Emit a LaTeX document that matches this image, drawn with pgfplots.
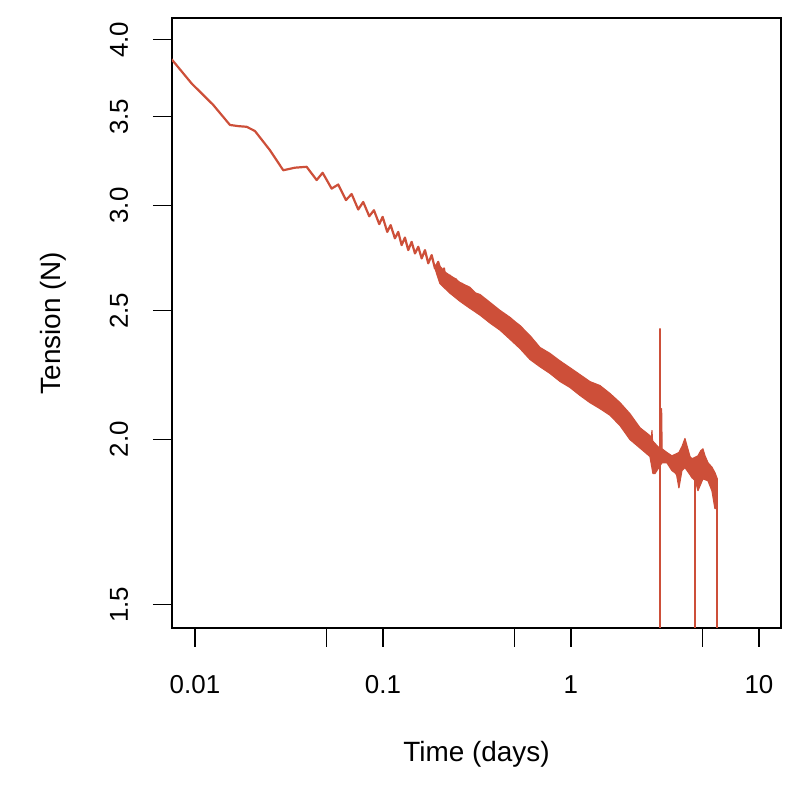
\documentclass[border=0pt]{standalone}
\usepackage{pgfplots}
\pgfplotsset{compat=1.18}
\usepackage{fontspec}
\setmainfont{Liberation Sans}
\definecolor{rc}{RGB}{205,79,57}
\begin{document}
\begin{tikzpicture}
\begin{axis}[
 name=ax, at={(0,0)}, anchor=south west,
 scale only axis, width=304.5bp, height=305bp,
 xmode=log, ymode=log,
 xmin=0.00755, xmax=13.1, ymin=1.441, ymax=4.155,
 xtick={0.01,0.05,0.1,0.5,1,5,10},
 xticklabels={0.01,,0.1,,1,,10},
 ytick={1.5,2,2.5,3,3.5,4},
 yticklabels={1.5,2.0,2.5,3.0,3.5,4.0},
 minor xtick={}, minor ytick={},
 xminorticks=false, yminorticks=false,
 xtick pos=bottom, ytick pos=left,
 tick align=outside, major tick length=9.5bp,
 tick style={black, line width=0.6bp},
 axis line style={line width=0.6bp},
 ticklabel style={font=\fontsize{13}{15}\selectfont},
 xticklabel style={anchor=base, yshift=-23.5bp},
 yticklabel style={xshift=-12.5bp, rotate=90, anchor=base},
 xlabel={Time (days)}, ylabel={Tension (N)},
 label style={font=\fontsize{14}{16}\selectfont},
 xlabel style={at={(axis description cs:0.5,-0.207)}, anchor=center},
 ylabel style={at={(axis description cs:-0.195,0.5)}, anchor=center},
 clip=true,
]
% early part and oscillations
\addplot[rc, line width=1.1bp, line join=round] coordinates {
(0.00752,3.868) (0.00960,3.709) (0.01251,3.573) (0.01535,3.451) (0.01700,3.444)
(0.01884,3.440) (0.02085,3.415) (0.02506,3.303) (0.02949,3.190) (0.0340,3.204)
(0.03927,3.209) (0.04439,3.136) (0.04778,3.176) (0.05334,3.090) (0.05783,3.112)
(0.06356,3.029) (0.06817,3.061) (0.07388,2.980) (0.07855,3.019) (0.08456,2.945)
(0.08955,2.976) (0.09557,2.905) (0.09963,2.942) (0.1054,2.866) (0.1099,2.900)
(0.1158,2.834) (0.1206,2.866) (0.1257,2.801) (0.1309,2.838) (0.1363,2.777)
(0.1421,2.817) (0.1480,2.761) (0.1541,2.793) (0.1607,2.737) (0.1673,2.777)
(0.1742,2.714) (0.1816,2.753) (0.1891,2.690) (0.1968,2.721) (0.2052,2.663)
(0.2111,2.690) (0.2190,2.595) (0.2272,2.657) (0.2357,2.575) (0.2444,2.640)
(0.2536,2.548) (0.2631,2.620) (0.2729,2.530)
};
% noisy band (upper edge, then lower edge back)
\addplot[rc, fill=rc, line width=0.6bp, line join=round] coordinates {
(0.1891,2.705) (0.2010,2.700) (0.2140,2.673) (0.2272,2.657) (0.2420,2.643) (0.2568,2.625)
(0.2903,2.603) (0.3100,2.578) (0.3281,2.571) (0.3708,2.536) (0.4192,2.501)
(0.4737,2.471) (0.5050,2.452) (0.5355,2.436) (0.6052,2.394) (0.6841,2.345)
(0.7732,2.321) (0.8739,2.291) (0.9878,2.264) (1.1166,2.237) (1.2620,2.210)
(1.4265,2.195) (1.6124,2.165) (1.8225,2.131) (2.060,2.090) (2.328,2.040)
(2.632,2.012) (2.680,2.003) (2.697,2.030) (2.715,1.995) (2.903,1.974)
(3.020,1.967) (3.035,2.109) (3.055,1.967) (3.240,1.954) (3.445,1.943)
(3.753,1.954) (3.900,1.975) (4.040,2.002) (4.150,1.975) (4.295,1.941)
(4.401,1.933) (4.737,1.943) (4.900,1.960) (5.036,1.967) (5.150,1.945)
(5.355,1.920) (5.623,1.905) (5.834,1.887) (6.000,1.867)
(6.000,1.773) (5.834,1.773) (5.623,1.829) (5.355,1.861) (5.036,1.867)
(4.737,1.829) (4.600,1.860) (4.401,1.871) (4.295,1.881) (4.040,1.904)
(3.894,1.894) (3.753,1.838) (3.650,1.880) (3.574,1.887) (3.445,1.894)
(3.240,1.920) (3.048,1.920) (2.798,1.884) (2.731,1.884) (2.632,1.941)
(2.328,1.970) (2.060,1.999) (1.8225,2.048) (1.6124,2.085) (1.4265,2.109)
(1.2620,2.131) (1.1166,2.158) (0.9878,2.188) (0.8739,2.211) (0.7732,2.242)
(0.6841,2.268) (0.6052,2.297) (0.5355,2.341) (0.4737,2.379) (0.4192,2.417)
(0.3708,2.447) (0.3281,2.481) (0.2903,2.510) (0.2568,2.541) (0.2272,2.577)
(0.2010,2.620) (0.1891,2.690)
} -- cycle;
% vertical spikes
\addplot[rc, line width=1bp] coordinates {(2.993,1.95) (2.993,2.424) (2.993,1.0)};
\addplot[rc, line width=1bp] coordinates {(4.566,1.92) (4.566,1.0)};
\addplot[rc, line width=1bp] coordinates {(6.000,1.86) (6.000,1.0)};
\end{axis}
\pgfresetboundingbox
\path[use as bounding box] (-86bp,-86bp) rectangle (314bp,314bp);
\end{tikzpicture}
\end{document}
